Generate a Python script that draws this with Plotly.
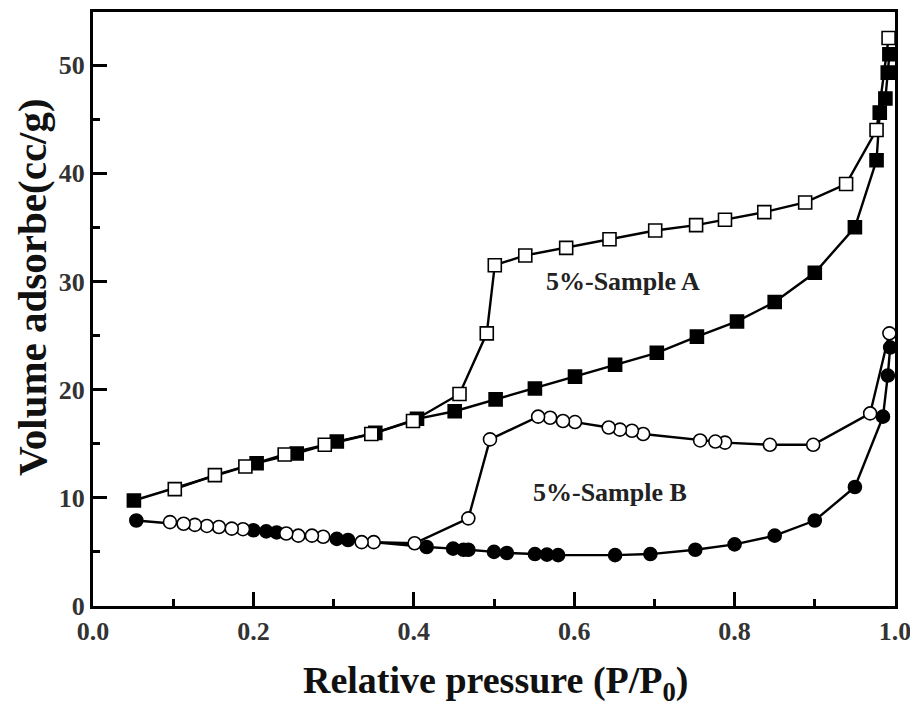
import plotly.graph_objects as go

# Sample A adsorption (filled squares)
a_ads_x = [0.051, 0.204, 0.254, 0.304, 0.352, 0.404, 0.451, 0.502, 0.551, 0.601, 0.651,
           0.703, 0.753, 0.803, 0.850, 0.900, 0.950, 0.977, 0.981, 0.988, 0.991, 0.993]
a_ads_y = [9.75, 13.2, 14.1, 15.2, 16.0, 17.3, 18.0, 19.1, 20.1, 21.2, 22.3,
           23.4, 24.9, 26.3, 28.1, 30.8, 35.0, 41.2, 45.6, 46.9, 49.3, 51.0]
# Sample A desorption (open squares)
a_des_x = [0.992, 0.977, 0.939, 0.888, 0.837, 0.788, 0.752, 0.701, 0.644, 0.590, 0.539,
           0.501, 0.491, 0.457, 0.399, 0.347, 0.289, 0.239, 0.190, 0.152, 0.102]
a_des_y = [52.5, 44.0, 39.0, 37.3, 36.4, 35.7, 35.2, 34.7, 33.9, 33.1, 32.4,
           31.5, 25.2, 19.6, 17.1, 15.9, 14.9, 14.0, 12.9, 12.1, 10.8]
# Sample B adsorption (filled circles)
b_ads_x = [0.054, 0.200, 0.216, 0.229, 0.304, 0.318, 0.416, 0.449, 0.462, 0.468, 0.500,
           0.516, 0.551, 0.566, 0.580, 0.651, 0.695, 0.751, 0.800, 0.850, 0.900, 0.950,
           0.985, 0.991, 0.994]
b_ads_y = [7.9, 7.0, 6.9, 6.8, 6.2, 6.1, 5.45, 5.3, 5.2, 5.2, 5.0,
           4.9, 4.8, 4.75, 4.7, 4.7, 4.8, 5.2, 5.7, 6.5, 7.9, 11.0,
           17.5, 21.3, 23.9]
# Sample B desorption (open circles)
b_des_x = [0.993, 0.969, 0.898, 0.844, 0.788, 0.776, 0.757, 0.686, 0.672, 0.657, 0.643,
           0.601, 0.586, 0.570, 0.555, 0.495, 0.468, 0.401, 0.350, 0.335, 0.287, 0.273,
           0.256, 0.241, 0.187, 0.173, 0.157, 0.142, 0.127, 0.113, 0.096]
b_des_y = [25.2, 17.8, 14.9, 14.9, 15.1, 15.2, 15.3, 15.9, 16.2, 16.3, 16.5,
           17.0, 17.1, 17.4, 17.5, 15.4, 8.1, 5.8, 5.9, 5.9, 6.4, 6.5,
           6.5, 6.7, 7.1, 7.15, 7.3, 7.4, 7.5, 7.6, 7.75]

x_ticks = [0.0, 0.2, 0.4, 0.6, 0.8, 1.0]
x_tick_text = ["0.0", "0.2", "0.4", "0.6", "0.8", "1.0"]
y_ticks = [0, 10, 20, 30, 40, 50]
label_a = "5%-Sample A"
label_b = "5%-Sample B"
x_title = "Relative pressure (P/P<sub>0</sub>)"
y_title = "Volume adsorbe(cc/g)"

FONT = "Liberation Serif"
fig = go.Figure()

def add(x, y, symbol, filled):
    fig.add_trace(go.Scatter(
        x=x, y=y, mode="lines+markers",
        line=dict(color="black", width=2.4),
        marker=dict(symbol=symbol, size=13,
                    color="black" if filled else "white",
                    line=dict(color="black", width=1.6)),
        showlegend=False))

add(a_ads_x, a_ads_y, "square", True)
add(b_ads_x, b_ads_y, "circle", True)
add(a_des_x, a_des_y, "square", False)
add(b_des_x, b_des_y, "circle", False)

fig.add_annotation(x=0.661, y=30.0, text=f"<b>{label_a}</b>", showarrow=False,
                   font=dict(family=FONT, size=26, color="#222"))
fig.add_annotation(x=0.645, y=10.5, text=f"<b>{label_b}</b>", showarrow=False,
                   font=dict(family=FONT, size=26, color="#222"))

# axis titles placed as annotations (paper coords relative to plot area)
fig.add_annotation(xref="paper", yref="paper", x=0.502, y=-0.130,
                   text=f"<b>{x_title}</b>", showarrow=False,
                   xanchor="center", yanchor="middle",
                   font=dict(family=FONT, size=38, color="#111"))
fig.add_annotation(xref="paper", yref="paper", x=-0.076, y=0.537,
                   text=f"<b>{y_title}</b>", showarrow=False, textangle=-90,
                   xanchor="center", yanchor="middle",
                   font=dict(family=FONT, size=41, color="#111"))

axis_common = dict(showline=True, linecolor="black", linewidth=3, mirror=True,
                   ticks="inside", ticklen=14, tickwidth=3, tickcolor="black",
                   showgrid=False, zeroline=False,
                   tickfont=dict(family=FONT, size=26, color="#333", weight="bold"))

fig.update_xaxes(range=[0, 1.0], tickvals=x_ticks, ticktext=x_tick_text,
                 minor=dict(ticks="inside", ticklen=7, tickwidth=2.5, tickcolor="black", dtick=0.1, tick0=0),
                 **axis_common)
fig.update_yaxes(range=[0, 54.9], tickvals=y_ticks, ticktext=[str(t) for t in y_ticks],
                 minor=dict(ticks="inside", ticklen=7, tickwidth=2.5, tickcolor="black", dtick=5, tick0=0),
                 **axis_common)

# page body has an 8px margin, so the figure is sized to fill 918x715 from that offset
fig.update_layout(width=910, height=707, margin=dict(l=85, r=23, t=1, b=109),
                  plot_bgcolor="white", paper_bgcolor="white")

fig.write_html("out.html")
